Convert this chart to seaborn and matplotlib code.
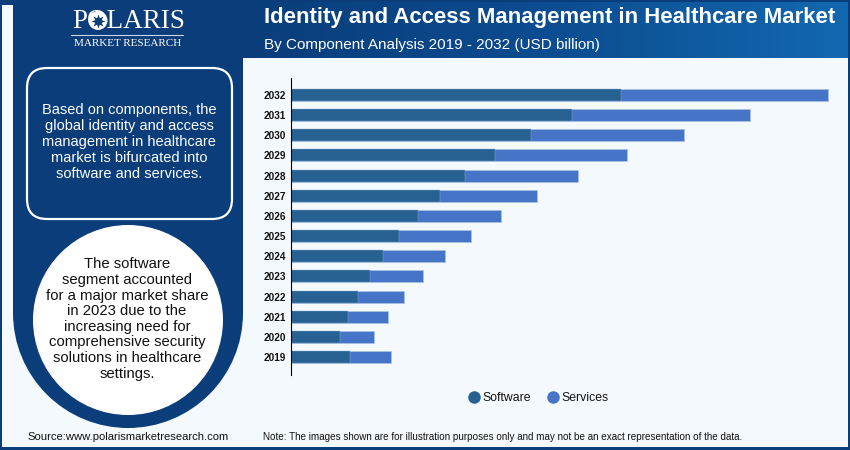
import numpy as np
import pandas as pd
import matplotlib.pyplot as plt
import seaborn as sns
from matplotlib.lines import Line2D
from matplotlib.patches import Circle, Ellipse, FancyBboxPatch, Rectangle

# Values (no axis scale is shown, so units are estimated)
years = ["2032", "2031", "2030", "2029", "2028", "2027", "2026",
         "2025", "2024", "2023", "2022", "2021", "2020", "2019"]
software = [3.30, 2.81, 2.40, 2.04, 1.74, 1.49, 1.27, 1.08, 0.92, 0.79, 0.67, 0.57, 0.49, 0.59]
services = [2.07, 1.78, 1.53, 1.32, 1.13, 0.97, 0.83, 0.72, 0.62, 0.53, 0.46, 0.40, 0.34, 0.41]

title = "Identity and Access Management in Healthcare Market"
subtitle = "By Component Analysis 2019 - 2032 (USD billion)"
box_text = ("Based on components, the\nglobal identity and access\nmanagement in healthcare\n"
            "market is bifurcated into\nsoftware and services.")
circle_text = ("The software\nsegment accounted\nfor a major market share\nin 2023 due to the\n"
               "increasing need for\ncomprehensive security\nsolutions in healthcare\nsettings.")
source = "Source:www.polarismarketresearch.com"
note = "Note: The images shown are for illustration purposes only and may not be an exact representation of the data."

NAVY = "#0a3d7a"
PALE = "#f4f9fd"
SOFTWARE_COLOR = "#266192"
SERVICES_COLOR = "#4674c6"

sns.set_theme(style="white")
plt.rcParams["font.family"] = ["Liberation Sans", "DejaVu Sans"]

fig = plt.figure(figsize=(8.5, 4.5), dpi=100)
fig.patch.set_facecolor(NAVY)

# Background layer in pixel coordinates
bg = fig.add_axes([0, 0, 1, 1])
bg.axis("off")

# header gradient
gradient = np.linspace(0, 1, 256).reshape(1, -1)
cmap = sns.blend_palette(["#0a3d7a", "#0c4c90", "#1268b0"], as_cmap=True)
bg.imshow(gradient, extent=(243, 848, 58, 2), cmap=cmap, aspect="auto", zorder=1)
bg.set_xlim(0, 850)
bg.set_ylim(450, 0)

# pale page
bg.add_patch(Rectangle((2, 2), 846, 445, fc=PALE, ec="none", zorder=0.5))
bg.add_patch(Rectangle((2, 2), 846, 3, fc=NAVY, ec="none", zorder=0.6))

# left panel with rounded bottom
bg.add_patch(Rectangle((13, 2), 230, 311, fc=NAVY, ec="none", zorder=1))
bg.add_patch(Ellipse((128, 313), 230, 230, fc=NAVY, ec="none", zorder=1))

# logo
bg.text(128.5, 21, "POLARIS", color="white", fontsize=19.5, ha="center", va="center",
        family="Liberation Serif", zorder=3)
bg.add_patch(Circle((98, 20.5), 9.5, fc="white", ec="none", zorder=4))
bg.plot([98], [20.5], marker=(8, 1, 0), ms=10, color=NAVY, mew=0, zorder=5)
bg.plot([71, 183], [34.5, 34.5], color="#c8d6e8", lw=0.8, zorder=3)
bg.text(128, 44, "MARKET RESEARCH", color="white", fontsize=8, ha="center", va="center",
        family="Liberation Serif", zorder=3)

# text box
bg.add_patch(FancyBboxPatch((27, 68), 205, 151, boxstyle="round,pad=0,rounding_size=20",
                            fc=NAVY, ec="white", lw=1.6, zorder=3))
bg.text(129, 142, box_text, color="white", fontsize=10.5, ha="center", va="center",
        linespacing=1.17, zorder=4)

# circle
bg.add_patch(Circle((128, 320), 95, fc="white", ec="none", zorder=3))
bg.text(127, 319, circle_text, color="#111111", fontsize=10.7, ha="center", va="center",
        linespacing=1.15, zorder=4)

# header and footer text
bg.text(264, 17, title, color="white", fontsize=15.9, fontweight="bold", ha="left", va="center", zorder=4)
bg.text(264, 44.5, subtitle, color="white", fontsize=10.95, ha="left", va="center", zorder=4)
bg.text(128, 437.5, source, color="#111111", fontsize=8.1, ha="center", va="center", zorder=4)
bg.text(263, 437.5, note, color="#111111", fontsize=7.14, ha="left", va="center", zorder=4)

# Chart layer: axis line at x=291, y from 78 to 375
df = pd.DataFrame({"year": years, "software": software, "services": services})
df["total"] = df["software"] + df["services"]

ax = fig.add_axes([291 / 850, 1 - 375 / 450, 545 / 850, 297 / 450])
ax.patch.set_alpha(0)
sns.barplot(data=df, y="year", x="total", color=SERVICES_COLOR, saturation=1, width=0.6,
            edgecolor="#a8c2e6", linewidth=0.5, ax=ax)
sns.barplot(data=df, y="year", x="software", color=SOFTWARE_COLOR, saturation=1, width=0.6,
            edgecolor="#8fb0d0", linewidth=0.3, ax=ax)
ax.set_xlim(0, 5.45)
ax.set_ylim(13.89, -0.84)
ax.set_xlabel("")
ax.set_ylabel("")
ax.set_xticks([])
ax.tick_params(axis="y", length=0, pad=3.5)
for label in ax.get_yticklabels():
    label.set_fontsize(7.2)
    label.set_fontweight("bold")
    label.set_color("#111111")
sns.despine(ax=ax, bottom=True)
ax.spines["left"].set_color("black")
ax.spines["left"].set_linewidth(0.8)

handles = [
    Line2D([], [], marker="o", ls="", ms=8, color=SOFTWARE_COLOR, label="Software"),
    Line2D([], [], marker="o", ls="", ms=8, color=SERVICES_COLOR, label="Services"),
]
fig.legend(handles=handles, loc="center", bbox_to_anchor=(538 / 850, 1 - 398 / 450), ncol=2,
           frameon=False, fontsize=8.8, handlelength=1.0, handletextpad=0.2, columnspacing=1.3,
           labelcolor="#111111")

fig.savefig("out.png", dpi=100, facecolor=fig.get_facecolor())
